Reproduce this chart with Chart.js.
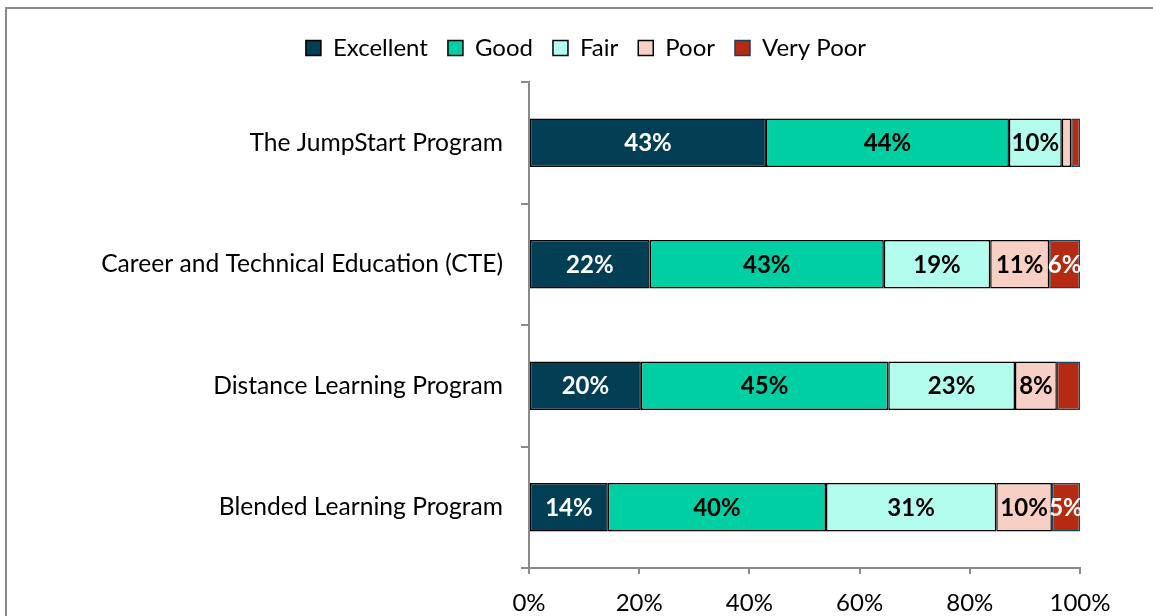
<!DOCTYPE html>
<html>
<head>
<meta charset="utf-8">
<script src="https://cdn.jsdelivr.net/npm/chart.js@4.4.1/dist/chart.umd.min.js"></script>
<style>
  html, body { margin: 0; padding: 0; background: #fff; overflow: hidden; }
  #wrap { position: relative; width: 1153px; height: 616px; }
  #frame { position: absolute; left: 5px; top: 7px; width: 1200px; height: 700px;
           border-left: 2px solid #8a8a8a; border-top: 2px solid #8a8a8a; pointer-events: none; }
</style>
</head>
<body>
<div id="wrap">
  <canvas id="myChart"></canvas>
  <div id="frame"></div>
</div>
<script>
const programs = [
  "The JumpStart Program",
  "Career and Technical Education (CTE)",
  "Distance Learning Program",
  "Blended Learning Program",
];
const excellent = [43.0, 21.9, 20.3, 14.3];
const good = [44.1, 42.5, 44.9, 39.6];
const fair = [9.6, 19.3, 23.0, 30.9];
const poor = [1.7, 10.7, 7.6, 10.1];
const veryPoor = [1.6, 5.6, 4.2, 5.1];
const xTicks = [0, 20, 40, 60, 80, 100];

const FONT = "Lato";

// legend spacing tweaks + percent labels inside the segments
const segmentLabels = {
  id: "segmentLabels",
  beforeLayout(chart) {
    // a bit more room between the legend and the plot
    const lg = chart.legend;
    if (lg && !lg._extraGap) {
      const fit = lg.fit;
      lg.fit = function () {
        fit.call(this);
        this.height += 12;
      };
      lg._extraGap = true;
    }
  },
  afterLayout(chart) {
    // legend sits centred on the whole page, not the plot box
    const lg = chart.legend;
    if (lg) {
      lg.left += 46;
      lg.right += 46;
    }
  },
  afterDatasetsDraw(chart) {
    const ctx = chart.ctx;
    ctx.save();
    ctx.font = "bold 24px " + FONT;
    ctx.textAlign = "center";
    ctx.textBaseline = "middle";
    chart.data.datasets.forEach((ds, i) => {
      const meta = chart.getDatasetMeta(i);
      meta.data.forEach((bar, j) => {
        const v = ds.data[j];
        if (v < 5) return;
        ctx.fillStyle = ds.labelColor;
        ctx.fillText(Math.round(v) + "%", (bar.x + bar.base) / 2, bar.y + 1);
      });
    });
    ctx.restore();
  },
};

const ctx = document.getElementById("myChart");

const data = {
  labels: programs,
  datasets: [
    { label: "Excellent", data: excellent, backgroundColor: "#023e54", borderColor: "#000", labelColor: "#fff" },
    { label: "Good", data: good, backgroundColor: "#00cfa4", borderColor: "#000", labelColor: "#000" },
    { label: "Fair", data: fair, backgroundColor: "#b3fdee", borderColor: "#000", labelColor: "#000" },
    { label: "Poor", data: poor, backgroundColor: "#f8cfc5", borderColor: "#000", labelColor: "#000" },
    { label: "Very Poor", data: veryPoor, backgroundColor: "#b52a12", borderColor: "#17465a", labelColor: "#fff" },
  ],
};

const config = {
  type: "bar",
  data: data,
  plugins: [segmentLabels],
  options: {
    indexAxis: "y",
    responsive: false,
    animation: false,
    datasets: {
      bar: { borderWidth: 1.5, barPercentage: 0.4, categoryPercentage: 1.0, borderSkipped: false },
    },
    layout: { padding: { top: 16, right: 73, bottom: 0, left: 0 } },
    plugins: {
      tooltip: { enabled: false },
      legend: {
        position: "top",
        labels: {
          font: { family: FONT, size: 24 },
          color: "#000",
          boxWidth: 15,
          boxHeight: 15,
          padding: 20,
          useBorderRadius: false,
          generateLabels(chart) {
            return chart.data.datasets.map((ds, i) => ({
              text: ds.label,
              fillStyle: ds.backgroundColor,
              strokeStyle: ds.borderColor,
              lineWidth: 1.5,
              datasetIndex: i,
              fontColor: "#000",
            }));
          },
        },
      },
    },
    scales: {
      x: {
        stacked: true,
        min: 0,
        max: 100,
        afterBuildTicks(scale) {
          scale.ticks = xTicks.map((v) => ({ value: v }));
        },
        afterFit(scale) { scale.height = 48; },
        ticks: {
          font: { family: FONT, size: 24 },
          color: "#000",
          padding: 15,
          maxRotation: 0,
          callback: (v) => v + "%",
        },
        grid: { drawOnChartArea: false, drawTicks: true, tickLength: 6, color: "#8a8a8a", lineWidth: 2 },
        border: { color: "#8a8a8a", width: 2 },
      },
      y: {
        stacked: true,
        afterFit(scale) { scale.width = 529; },
        ticks: {
          font: { family: FONT, size: 24.6 },
          color: "#000",
          padding: 18,
        },
        grid: { drawOnChartArea: false, drawTicks: true, tickLength: 8, offset: true, color: "#8a8a8a", lineWidth: 2 },
        border: { color: "#8a8a8a", width: 2 },
      },
    },
  },
};

ctx.width = 1153;
ctx.height = 616;
new Chart(ctx, config);
</script>
</body>
</html>
